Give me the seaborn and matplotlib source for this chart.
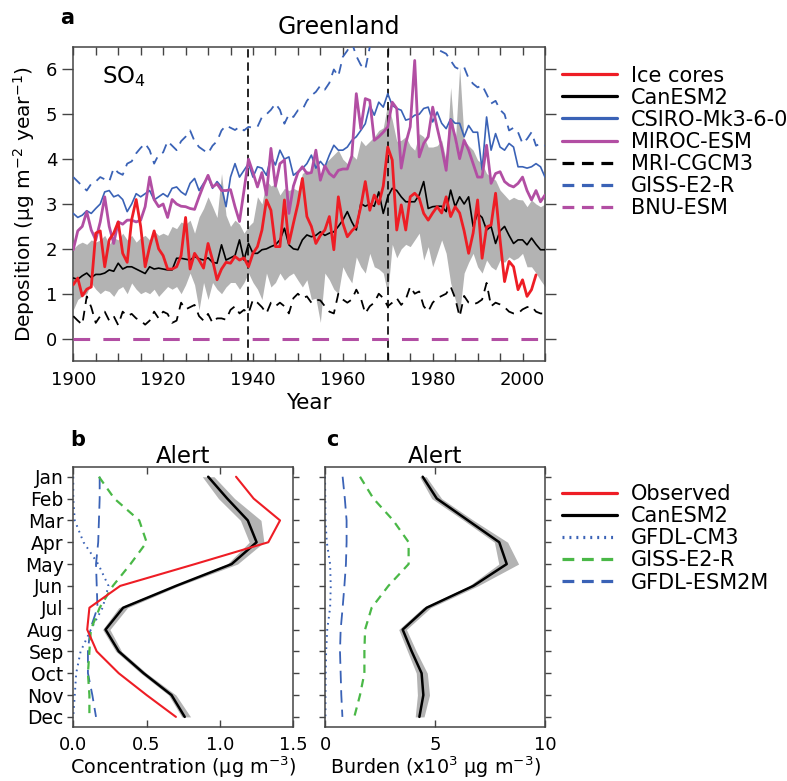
import numpy as np
import matplotlib
matplotlib.use('Agg')
import matplotlib.pyplot as plt
from matplotlib.lines import Line2D
from matplotlib.ticker import MultipleLocator
import seaborn as sns

# ---------------- data: panel a (Greenland SO4 deposition) ----------------
years = np.arange(1900, 2006)
ice_years = np.arange(1900, 2004)

ice_cores = [1.2, 1.35, 0.95, 1.1, 1.15, 2.35, 2.4, 1.6, 2.2, 2.35,
             2.6, 1.9, 1.7, 2.65, 3.1, 2.5, 1.6, 2.05, 2.4, 2.0,
             1.85, 1.55, 1.55, 1.6, 1.85, 2.7, 1.55, 1.9, 1.75, 1.57,
             2.12, 1.75, 1.31, 1.55, 1.7, 1.68, 1.83, 1.75, 1.8, 1.6,
             1.9, 2.05, 2.42, 3.09, 2.86, 2.05, 2.05, 3.09, 2.12, 2.57,
             3.0, 3.57, 2.72, 2.5, 2.12, 2.3, 2.42, 2.72, 1.98, 3.16,
             2.57, 2.27, 2.4, 2.5, 2.94, 3.5, 2.86, 3.2, 3.0, 3.4,
             4.27, 3.98, 2.42, 2.98, 2.42, 3.16, 3.24, 3.13, 2.79, 2.64,
             2.8, 2.94, 2.8, 3.16, 2.72, 2.94, 2.8, 2.4, 1.9, 2.35,
             3.09, 1.79, 2.49, 2.53, 3.24, 2.2, 1.27, 1.72, 1.6, 1.09,
             1.31, 0.94, 1.09, 1.42]

canesm2 = [1.35, 1.32, 1.4, 1.46, 1.36, 1.43, 1.43, 1.46, 1.53, 1.5,
           1.68, 1.55, 1.6, 1.6, 1.55, 1.5, 1.45, 1.6, 1.55, 1.57,
           1.55, 1.53, 1.53, 1.79, 1.79, 1.77, 1.75, 1.83, 1.78, 1.75,
           1.8, 1.7, 1.68, 2.09, 1.75, 1.8, 1.85, 2.2, 1.75, 2.12,
           1.9, 1.9, 1.98, 2.0, 2.05, 2.09, 2.2, 2.46, 2.09, 2.0,
           1.98, 2.2, 2.31, 2.27, 2.3, 2.38, 2.3, 2.35, 2.38, 2.5,
           2.64, 2.83, 2.6, 2.42, 3.01, 2.95, 3.0, 2.95, 3.27, 2.79,
           3.16, 3.35, 3.3, 3.16, 3.05, 3.05, 3.05, 3.2, 3.5, 2.9,
           2.94, 2.95, 2.95, 2.83, 3.31, 2.94, 3.16, 3.0, 3.16, 2.5,
           2.79, 2.7, 2.42, 2.5, 2.12, 2.4, 2.5, 2.3, 2.12, 2.2,
           2.2, 2.09, 2.24, 2.1, 1.98, 1.98]

canesm2_hi = [2.0, 2.1, 2.15, 2.1, 2.2, 2.15, 2.2, 2.3, 2.1, 2.25,
              2.2, 2.35, 2.2, 2.3, 2.15, 2.25, 2.3, 2.2, 2.4, 2.3,
              2.35, 2.3, 2.5, 2.45, 2.6, 2.55, 2.64, 2.35, 2.71, 2.9,
              3.16, 2.94, 2.7, 3.68, 2.75, 2.5, 2.64, 2.55, 2.35, 2.5,
              2.6, 3.16, 3.0, 3.53, 3.4, 3.45, 3.2, 3.35, 3.3, 3.35,
              3.3, 3.68, 3.75, 3.68, 4.2, 3.55, 3.9, 4.0, 4.1, 4.2,
              4.0, 3.9, 4.1, 4.0, 4.42, 4.3, 4.4, 4.5, 4.64, 4.7,
              5.24, 4.87, 4.4, 4.42, 4.5, 4.3, 4.2, 4.57, 4.5, 4.27,
              4.27, 4.3, 4.42, 3.98, 5.6, 4.3, 6.05, 4.42, 4.3, 4.2,
              3.98, 3.9, 3.68, 3.6, 3.53, 3.31, 3.2, 3.09, 3.15, 3.1,
              3.09, 2.94, 3.09, 3.0, 2.94, 3.0]

canesm2_lo = [0.64, 0.87, 0.95, 1.0, 1.24, 1.1, 1.0, 1.08, 1.05, 0.94,
              1.1, 1.16, 1.0, 1.24, 1.1, 1.0, 1.05, 1.0, 1.1, 0.94,
              1.05, 1.16, 1.1, 1.16, 1.0, 1.2, 1.46, 1.2, 0.64, 1.25,
              0.87, 1.25, 1.1, 1.0, 1.15, 1.25, 1.25, 1.1, 1.25, 1.46,
              1.25, 1.1, 0.87, 1.46, 1.15, 1.25, 1.46, 1.3, 1.4, 1.46,
              1.3, 1.15, 1.31, 0.87, 0.9, 0.36, 1.46, 1.31, 1.1, 1.0,
              1.6, 1.4, 1.24, 1.82, 1.6, 1.46, 1.9, 1.6, 1.55, 1.46,
              1.0, 2.1, 1.8, 2.0, 2.1, 2.05, 2.2, 2.35, 1.75, 2.05,
              1.6, 1.9, 2.2, 1.9, 1.24, 0.87, 0.57, 1.46, 1.7, 1.9,
              1.6, 1.46, 1.75, 1.6, 1.53, 1.75, 1.7, 1.82, 1.75, 1.8,
              1.9, 1.6, 1.6, 1.46, 1.3, 1.16]

csiro = [2.79, 2.7, 2.75, 2.85, 2.79, 2.9, 3.0, 3.27, 3.3, 3.16,
         3.2, 3.1, 2.83, 3.0, 3.23, 3.16, 3.23, 3.3, 3.09, 3.16,
         3.23, 3.16, 3.35, 3.38, 3.27, 3.2, 3.46, 3.57, 3.3, 3.46,
         3.6, 3.35, 3.5, 3.38, 2.94, 3.6, 3.9, 3.6, 3.75, 3.9,
         3.6, 3.83, 3.8, 3.64, 4.05, 3.87, 4.2, 4.0, 4.05, 3.64,
         3.72, 3.79, 3.9, 4.09, 3.8, 3.95, 3.83, 4.09, 4.31, 4.2,
         4.2, 4.27, 4.42, 4.5, 4.64, 4.79, 5.2, 4.98, 5.27, 5.16,
         5.46, 5.2, 5.13, 5.09, 4.87, 4.9, 4.98, 5.0, 5.13, 5.16,
         4.83, 5.05, 4.8, 4.68, 4.9, 4.8, 4.8, 4.5, 4.75, 4.6,
         4.6, 3.76, 4.94, 4.2, 4.57, 4.27, 4.2, 4.35, 4.27, 3.83,
         3.83, 3.8, 3.83, 3.9, 3.83, 3.6]

miroc = [1.98, 2.4, 2.5, 2.83, 2.42, 2.2, 2.6, 3.16, 2.5, 2.12,
         2.6, 2.55, 2.64, 2.64, 2.6, 2.64, 2.94, 3.6, 3.1, 2.94,
         3.0, 2.7, 3.1, 3.0, 2.95, 2.94, 2.9, 2.88, 3.16, 3.42,
         3.64, 3.38, 3.45, 3.3, 3.3, 3.32, 2.94, 2.61, 3.3, 4.0,
         3.7, 3.38, 3.7, 3.2, 4.24, 3.4, 3.9, 3.98, 2.79, 3.4,
         3.7, 3.83, 3.68, 3.7, 4.2, 3.53, 3.85, 3.68, 3.6, 3.75,
         3.78, 3.78, 4.07, 5.46, 4.68, 5.35, 5.31, 4.42, 4.5, 4.6,
         4.72, 5.27, 5.13, 3.8, 4.35, 4.72, 6.2, 4.05, 4.35, 4.5,
         5.16, 4.7, 4.27, 3.75, 4.87, 4.5, 4.01, 4.42, 4.2, 3.9,
         3.6, 3.6, 4.31, 3.46, 3.68, 3.72, 3.5, 3.42, 3.38, 3.46,
         3.6, 3.3, 3.09, 3.3, 3.05, 3.2]

mri = [0.5, 0.4, 0.31, 0.94, 0.7, 0.35, 0.5, 0.6, 0.4, 0.5,
       0.3, 0.6, 0.5, 0.55, 0.45, 0.4, 0.31, 0.4, 0.6, 0.45,
       0.6, 0.55, 0.35, 0.4, 0.8, 0.65, 0.7, 0.75, 0.5, 0.4,
       0.55, 0.35, 0.45, 0.45, 0.42, 0.64, 0.72, 0.56, 0.64, 0.56,
       0.87, 0.8, 0.7, 0.56, 0.8, 0.72, 0.8, 0.72, 0.56, 0.9,
       1.0, 0.9, 0.94, 0.8, 0.87, 0.85, 0.72, 0.6, 0.56, 1.0,
       0.87, 0.8, 0.87, 1.09, 0.9, 0.56, 0.72, 0.8, 1.0, 0.9,
       0.72, 0.8, 0.9, 0.75, 0.87, 1.16, 1.0, 1.05, 0.72, 0.6,
       0.8, 0.9, 0.95, 1.0, 1.16, 0.9, 0.49, 0.95, 0.8, 0.76,
       0.8, 0.87, 1.24, 0.72, 0.8, 0.76, 0.7, 0.6, 0.56, 0.56,
       0.65, 0.7, 0.72, 0.6, 0.56, 0.56]

giss = [3.6, 3.5, 3.4, 3.3, 3.45, 3.5, 3.6, 3.55, 3.5, 3.8,
        3.7, 3.65, 3.9, 3.95, 4.13, 4.25, 4.35, 4.2, 3.9, 4.1,
        4.15, 4.4, 4.3, 4.2, 4.4, 4.5, 4.64, 4.4, 4.27, 4.2,
        4.13, 4.3, 4.4, 4.64, 4.75, 4.7, 4.65, 4.72, 4.64, 4.72,
        4.7, 4.72, 4.94, 5.0, 5.1, 5.24, 5.1, 4.79, 5.0, 4.94,
        5.09, 5.1, 5.3, 5.42, 5.5, 5.64, 5.55, 5.7, 6.0, 5.85,
        6.28, 6.42, 6.6, 6.3, 6.1, 6.0, 6.5, 6.8, 6.9, 6.7,
        6.8, 6.9, 7.0, 6.8, 6.9, 7.0, 6.9, 6.8, 6.7, 6.6,
        6.55, 6.45, 6.4, 6.35, 6.2, 6.05, 6.0, 6.05, 5.8, 5.68,
        5.6, 5.65, 5.45, 5.24, 5.3, 5.1, 5.0, 4.64, 4.7, 4.6,
        4.35, 4.45, 4.6, 4.3, 4.35, 4.3]

bnu = [0.0] * len(years)
marker_years = [1939, 1970]

# ---------------- data: panels b, c (Alert seasonal cycle) ----------------
months = ['Jan', 'Feb', 'Mar', 'Apr', 'May', 'Jun',
          'Jul', 'Aug', 'Sep', 'Oct', 'Nov', 'Dec']
month_pos = np.arange(1, 13)

obs_conc = [1.11, 1.23, 1.41, 1.33, 0.83, 0.32, 0.11, 0.095, 0.16, 0.31, 0.50, 0.70]
can_conc = [0.92, 1.05, 1.19, 1.25, 1.08, 0.70, 0.34, 0.22, 0.31, 0.48, 0.67, 0.76]
can_conc_lo = [0.88, 0.99, 1.14, 1.20, 1.05, 0.68, 0.31, 0.20, 0.29, 0.46, 0.65, 0.74]
can_conc_hi = [0.96, 1.10, 1.28, 1.30, 1.12, 0.72, 0.37, 0.25, 0.33, 0.50, 0.70, 0.80]
cm3_conc = [0.0, 0.0, 0.01, 0.07, 0.17, 0.24, 0.20, 0.12, 0.05, 0.02, 0.01, 0.0]
giss_conc = [0.175, 0.28, 0.45, 0.50, 0.39, 0.27, 0.18, 0.12, 0.11, 0.10, 0.11, 0.11]
esm_conc = [0.18, 0.18, 0.175, 0.17, 0.155, 0.16, 0.165, 0.115, 0.10, 0.10, 0.13, 0.155]

can_burden = [4.44, 5.08, 6.5, 7.92, 8.26, 6.74, 4.62, 3.53, 3.94, 4.39, 4.47, 4.29]
can_burden_lo = [4.3, 4.85, 6.3, 7.7, 7.9, 6.55, 4.45, 3.35, 3.75, 4.15, 4.2, 4.1]
can_burden_hi = [4.6, 5.3, 6.75, 8.3, 8.8, 6.95, 4.8, 3.7, 4.15, 4.65, 4.75, 4.5]
giss_burden = [1.59, 2.2, 3.1, 3.8, 3.8, 2.88, 2.12, 1.82, 1.79, 1.79, 1.59, 1.33]
cm3_burden = [0.0, 0.01, 0.02, 0.08, 0.23, 0.26, 0.23, 0.1, 0.05, 0.03, 0.02, 0.02]
esm_burden = [0.8, 0.9, 0.98, 0.98, 0.95, 0.88, 0.8, 0.71, 0.68, 0.71, 0.74, 0.79]

# ---------------- styling ----------------
sns.set_theme(style='ticks')
plt.rcParams['font.family'] = ['DejaVu Sans']
plt.rcParams['lines.scale_dashes'] = False
plt.rcParams['text.color'] = 'black'
plt.rcParams['axes.labelcolor'] = 'black'
plt.rcParams['axes.edgecolor'] = '#444444'
plt.rcParams['axes.linewidth'] = 1.1
plt.rcParams['xtick.color'] = '#444444'
plt.rcParams['ytick.color'] = '#444444'
plt.rcParams['xtick.labelcolor'] = 'black'
plt.rcParams['ytick.labelcolor'] = 'black'

RED = '#ee1d25'
BLUE = '#3a62b6'
PURPLE = '#b24ea3'
GREEN = '#4ab847'
GRAY = '#b3b3b3'

NUM_FS = 13
MONTH_FS = 13.5
LEG_FS = 15
TITLE_FS = 16.5

fig = plt.figure(figsize=(7.87, 7.81), dpi=100)
ax_a = fig.add_axes([0.0931, 0.5378, 0.5994, 0.402])
ax_b = fig.add_axes([0.0931, 0.0695, 0.2795, 0.3321])
ax_c = fig.add_axes([0.413, 0.0695, 0.2795, 0.3321])

# ---------------- panel a ----------------
ax_a.fill_between(years, canesm2_lo, canesm2_hi, color=GRAY, lw=0, zorder=1)
for yr in marker_years:
    ax_a.axvline(yr, color='black', lw=1.2, ls=(0, (6, 3.5)), zorder=2)
sns.lineplot(x=years, y=bnu, color=PURPLE, lw=2.2, ls=(0, (12, 9.5)), errorbar=None, ax=ax_a, zorder=3)
sns.lineplot(x=years, y=mri, color='black', lw=1.3, ls=(0, (7, 5)), errorbar=None, ax=ax_a, zorder=3)
sns.lineplot(x=years, y=giss, color=BLUE, lw=1.3, ls=(0, (7, 5)), errorbar=None, ax=ax_a, zorder=3)
sns.lineplot(x=years, y=csiro, color=BLUE, lw=1.2, errorbar=None, ax=ax_a, zorder=4)
sns.lineplot(x=years, y=canesm2, color='black', lw=1.2, errorbar=None, ax=ax_a, zorder=4)
sns.lineplot(x=years, y=miroc, color=PURPLE, lw=2.0, errorbar=None, ax=ax_a, zorder=5)
sns.lineplot(x=ice_years, y=ice_cores, color=RED, lw=2.0, errorbar=None, ax=ax_a, zorder=6)

ax_a.set_xlim(1900, 2005)
ax_a.set_ylim(-0.5, 6.5)
ax_a.set_xticks(np.arange(1900, 2001, 20))
ax_a.xaxis.set_minor_locator(MultipleLocator(5))
ax_a.set_yticks(np.arange(0, 7))
ax_a.tick_params(axis='x', which='both', direction='in', top=True, bottom=True,
                 length=6, width=1, labelsize=NUM_FS, pad=7)
ax_a.tick_params(axis='y', which='both', direction='out', left=True, right=True,
                 length=8, width=1, labelsize=NUM_FS, labelright=False)
ax_a.set_xlabel('Year', fontsize=15.5, labelpad=3)
ax_a.set_ylabel('Deposition (\u03bcg m$^{-2}$ year$^{-1}$)', fontsize=14.5, labelpad=6)
ax_a.text(1906.5, 5.85, 'SO$_4$', fontsize=16.5, va='center', ha='left')
fig.text(0.43, 0.965, 'Greenland', fontsize=17, ha='center', va='center')
fig.text(0.085, 0.977, 'a', fontsize=15, fontweight='bold', ha='center', va='center')

handles_a = [
    Line2D([], [], color=RED, lw=2.3),
    Line2D([], [], color='black', lw=2.3),
    Line2D([], [], color=BLUE, lw=2.3),
    Line2D([], [], color=PURPLE, lw=2.3),
    Line2D([], [], color='black', lw=2.3, ls=(0, (8.5, 5.5))),
    Line2D([], [], color=BLUE, lw=2.3, ls=(0, (8.5, 5.5))),
    Line2D([], [], color=PURPLE, lw=2.3, ls=(0, (8.5, 5.5))),
]
labels_a = ['Ice cores', 'CanESM2', 'CSIRO-Mk3-6-0', 'MIROC-ESM',
            'MRI-CGCM3', 'GISS-E2-R', 'BNU-ESM']
fig.legend(handles_a, labels_a, loc='upper left', bbox_to_anchor=(0.7137, 0.916),
           bbox_transform=fig.transFigure, frameon=False, fontsize=LEG_FS,
           handlelength=2.64, handletextpad=0.67, labelspacing=0.1,
           borderpad=0, borderaxespad=0)

# ---------------- panel b ----------------
ax_b.fill_betweenx(month_pos, can_conc_lo, can_conc_hi, color=GRAY, lw=0, zorder=1)
sns.lineplot(x=cm3_conc, y=month_pos, orient='y', sort=False, estimator=None,
             color=BLUE, lw=1.4, ls=(0, (1.2, 3.2)), ax=ax_b, zorder=2)
sns.lineplot(x=esm_conc, y=month_pos, orient='y', sort=False, estimator=None,
             color=BLUE, lw=1.3, ls=(0, (9, 5)), ax=ax_b, zorder=2)
sns.lineplot(x=giss_conc, y=month_pos, orient='y', sort=False, estimator=None,
             color=GREEN, lw=1.6, ls=(0, (6, 4.5)), ax=ax_b, zorder=2)
sns.lineplot(x=can_conc, y=month_pos, orient='y', sort=False, estimator=None,
             color='black', lw=1.8, ax=ax_b, zorder=3)
sns.lineplot(x=obs_conc, y=month_pos, orient='y', sort=False, estimator=None,
             color=RED, lw=1.5, ax=ax_b, zorder=4)

# ---------------- panel c ----------------
ax_c.fill_betweenx(month_pos, can_burden_lo, can_burden_hi, color=GRAY, lw=0, zorder=1)
sns.lineplot(x=cm3_burden, y=month_pos, orient='y', sort=False, estimator=None,
             color=BLUE, lw=1.4, ls=(0, (1.2, 3.2)), ax=ax_c, zorder=2)
sns.lineplot(x=esm_burden, y=month_pos, orient='y', sort=False, estimator=None,
             color=BLUE, lw=1.3, ls=(0, (9, 5)), ax=ax_c, zorder=2)
sns.lineplot(x=giss_burden, y=month_pos, orient='y', sort=False, estimator=None,
             color=GREEN, lw=1.6, ls=(0, (6, 4.5)), ax=ax_c, zorder=2)
sns.lineplot(x=can_burden, y=month_pos, orient='y', sort=False, estimator=None,
             color='black', lw=1.8, ax=ax_c, zorder=3)

for ax in (ax_b, ax_c):
    ax.set_ylim(12.45, 0.57)
    ax.set_yticks(month_pos)
    ax.tick_params(axis='y', direction='out', left=True, right=True, length=4,
                   width=1, labelsize=MONTH_FS, labelright=False, pad=3)
    ax.tick_params(axis='x', direction='in', top=True, bottom=True, length=5,
                   width=1, labelsize=NUM_FS, pad=7)
    ax.set_ylabel('')

ax_b.set_xlim(0, 1.5)
ax_b.set_xticks([0.0, 0.5, 1.0, 1.5])
ax_b.set_xticklabels(['0.0', '0.5', '1.0', '1.5'])
ax_b.set_yticklabels(months)
ax_b.set_xlabel('Concentration (\u03bcg m$^{-3}$)', fontsize=13.8, labelpad=0)
ax_b.set_title('Alert', fontsize=TITLE_FS, pad=3)

ax_c.set_xlim(0, 10)
ax_c.set_xticks([0, 5, 10])
ax_c.tick_params(axis='y', labelleft=False)
ax_c.set_xlabel('Burden (x10$^3$ \u03bcg m$^{-3}$)', fontsize=13.8, labelpad=0)
ax_c.set_title('Alert', fontsize=TITLE_FS, pad=3)

fig.text(0.099, 0.437, 'b', fontsize=15, fontweight='bold', ha='center', va='center')
fig.text(0.422, 0.437, 'c', fontsize=15, fontweight='bold', ha='center', va='center')

handles_b = [
    Line2D([], [], color=RED, lw=2.3),
    Line2D([], [], color='black', lw=2.3),
    Line2D([], [], color=BLUE, lw=2.3, ls=(0, (1.4, 3.6))),
    Line2D([], [], color=GREEN, lw=2.3, ls=(0, (8.5, 5.5))),
    Line2D([], [], color=BLUE, lw=2.3, ls=(0, (8.5, 5.5))),
]
labels_b = ['Observed', 'CanESM2', 'GFDL-CM3', 'GISS-E2-R', 'GFDL-ESM2M']
fig.legend(handles_b, labels_b, loc='upper left', bbox_to_anchor=(0.7137, 0.38),
           bbox_transform=fig.transFigure, frameon=False, fontsize=LEG_FS,
           handlelength=2.64, handletextpad=0.67, labelspacing=0.1,
           borderpad=0, borderaxespad=0)

fig.savefig('out.png', dpi=100)
